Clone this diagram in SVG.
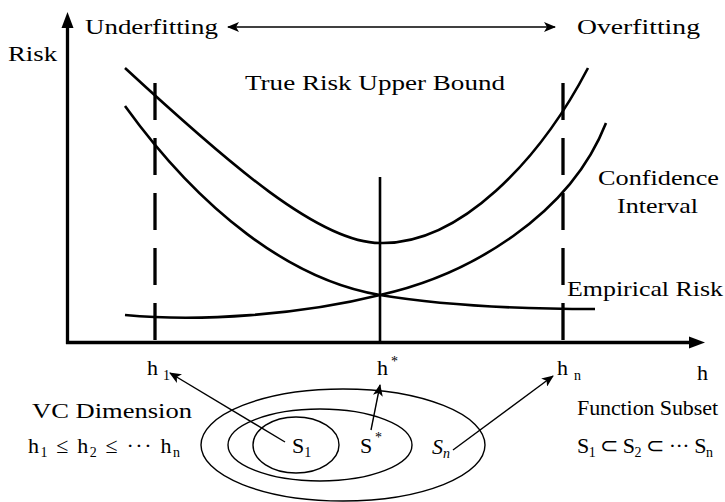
<svg xmlns="http://www.w3.org/2000/svg" width="725" height="502" viewBox="0 0 725 502">
<style>
text{font-family:"Liberation Serif","Times New Roman",serif;font-size:22px;fill:#000}
.sm{font-size:14px}
.curve{fill:none;stroke:#000;stroke-width:2.6}
.dash{fill:none;stroke:#000;stroke-width:3.3;stroke-dasharray:37 18}
.axis{fill:none;stroke:#000;stroke-width:3.3}
.thin{fill:none;stroke:#000;stroke-width:1.4}
.ell{fill:none;stroke:#000;stroke-width:1.4}
</style>
<defs>
<marker id="a" viewBox="0 0 12 10" refX="11" refY="5" markerWidth="12" markerHeight="10" orient="auto-start-reverse" markerUnits="userSpaceOnUse">
<path d="M0,0 L12,5 L0,10 L3,5 z" fill="#000"/>
</marker>
</defs>
<rect width="725" height="502" fill="#fff"/>

<g id="axes">
<line class="axis" x1="67.5" y1="344" x2="67.5" y2="24"/>
<polygon points="67.5,12 61.5,28 73.5,28" fill="#000"/>
<line class="axis" x1="66" y1="342.5" x2="692" y2="342.5"/>
<polygon points="705,342.5 689,336.5 689,348.5" fill="#000"/>
</g>

<g id="true-risk-curve">
<path class="curve" d="M125,68 C230,165 320,243 380,243 C460,245 540,160 588,68"/>
</g>
<g id="empirical-risk-curve">
<path class="curve" d="M125,106 C200,210 290,280 380,295 C440,305 520,309 595,309"/>
</g>
<g id="confidence-curve">
<path class="curve" d="M125,315 C200,322 300,315 380,295 C470,275 570,215 606,123"/>
</g>

<g id="markers">
<line class="dash" x1="155" y1="83" x2="155" y2="343"/>
<line class="dash" x1="563" y1="83" x2="563" y2="343"/>
<line class="curve" x1="380" y1="177" x2="380" y2="343" stroke-width="2.8"/>
</g>

<g id="labels">
<text x="8" y="61" textLength="49" lengthAdjust="spacingAndGlyphs">Risk</text>
<text x="85" y="34" textLength="133" lengthAdjust="spacingAndGlyphs">Underfitting</text>
<text x="577" y="34" textLength="123" lengthAdjust="spacingAndGlyphs">Overfitting</text>
<text x="245" y="90" textLength="260" lengthAdjust="spacingAndGlyphs">True Risk Upper Bound</text>
<text x="598" y="185" textLength="121" lengthAdjust="spacingAndGlyphs">Confidence</text>
<text x="617" y="213" textLength="81" lengthAdjust="spacingAndGlyphs">Interval</text>
<text x="567" y="296" textLength="156" lengthAdjust="spacingAndGlyphs">Empirical Risk</text>
<text x="147" y="375">h</text><text class="sm" x="163" y="380">1</text>
<text x="377" y="375">h</text><text class="sm" x="391" y="366">*</text>
<text x="557" y="375">h</text><text class="sm" x="574" y="380">n</text>
<text x="697" y="380">h</text>
<text x="32" y="418" textLength="160" lengthAdjust="spacingAndGlyphs">VC Dimension</text>
<text x="28" y="453" textLength="152" lengthAdjust="spacing">h<tspan class="sm" dy="4">1</tspan><tspan dy="-4"> ≤ h</tspan><tspan class="sm" dy="4">2</tspan><tspan dy="-4"> ≤ ··· h</tspan><tspan class="sm" dy="4">n</tspan></text>
<text x="577" y="415" textLength="141" lengthAdjust="spacing">Function Subset</text>
<text x="577" y="453" textLength="136" lengthAdjust="spacing">S<tspan class="sm" dy="4">1</tspan><tspan dy="-4"> ⊂ S</tspan><tspan class="sm" dy="4">2</tspan><tspan dy="-4"> ⊂ ··· S</tspan><tspan class="sm" dy="4">n</tspan></text>
</g>

<g id="subsets">
<ellipse class="ell" cx="343" cy="445" rx="142" ry="56"/>
<ellipse class="ell" cx="320" cy="445" rx="92" ry="36"/>
<ellipse class="ell" cx="296" cy="445" rx="43" ry="28"/>
<text x="292" y="453">S<tspan class="sm" dy="4">1</tspan></text>
<text x="360" y="453">S</text><text class="sm" x="375" y="442">*</text>
<text x="432" y="454" font-style="italic">S<tspan class="sm" dy="4">n</tspan></text>
</g>

<g id="connectors">
<line class="thin" x1="228" y1="27" x2="555" y2="27" marker-start="url(#a)" marker-end="url(#a)"/>
<line class="thin" x1="285" y1="442" x2="170" y2="373" marker-end="url(#a)"/>
<line class="thin" x1="371" y1="430" x2="380" y2="385" marker-end="url(#a)"/>
<line class="thin" x1="453" y1="450" x2="553" y2="376" marker-end="url(#a)"/>
</g>
</svg>
